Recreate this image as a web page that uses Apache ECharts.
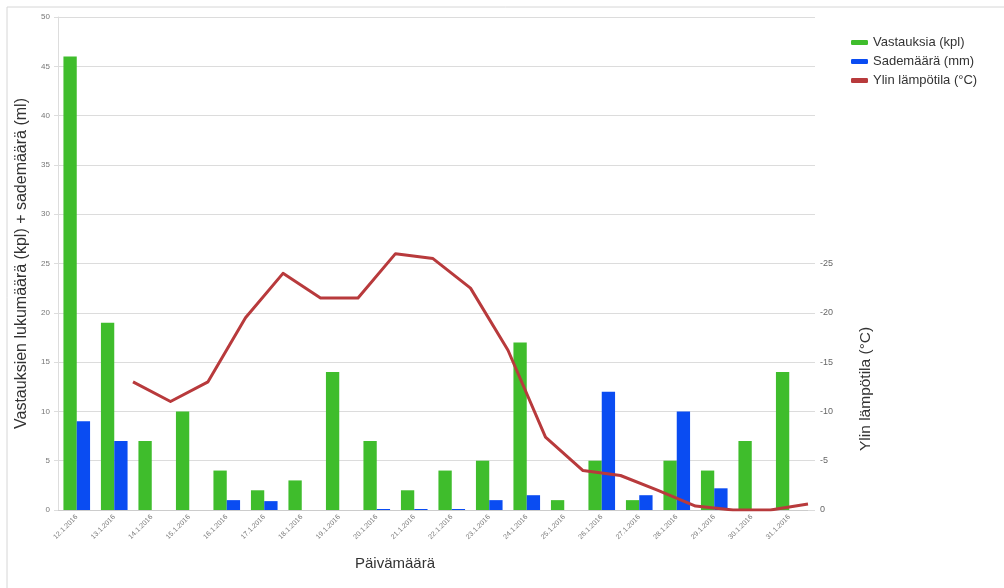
<!DOCTYPE html>
<html>
<head>
<meta charset="utf-8">
<script src="https://cdn.jsdelivr.net/npm/echarts@6/dist/echarts.min.js"></script>
<style>html,body{margin:0;padding:0;background:#fff}#c{width:1004px;height:588px}</style>
</head>
<body>
<div id="c"></div>
<script>
const dates = ['12.1.2016','13.1.2016','14.1.2016','15.1.2016','16.1.2016','17.1.2016','18.1.2016','19.1.2016','20.1.2016','21.1.2016','22.1.2016','23.1.2016','24.1.2016','25.1.2016','26.1.2016','27.1.2016','28.1.2016','29.1.2016','30.1.2016','31.1.2016'];
const vastauksia = [46, 19, 7, 10, 4, 2, 3, 14, 7, 2, 4, 5, 17, 1, 5, 1, 5, 4, 7, 14];
const sademaara = [9, 7, 0, 0, 1, 0.9, 0, 0, 0.1, 0.1, 0.1, 1, 1.5, 0, 12, 1.5, 10, 2.2, 0, 0];
// temperature points sit on the category boundaries (21 positions)
const tempPositions = ['p0','p1','p2','p3','p4','p5','p6','p7','p8','p9','p10','p11','p12','p13','p14','p15','p16','p17','p18','p19','p20'];
const ylinLampotila = [null, null, -13, -11, -13, -19.5, -24, -21.5, -21.5, -26, -25.5, -22.5, -16.2, -7.4, -4, -3.5, -2, -0.4, 0, 0, -0.6];
const leftTicks = {min: 0, max: 50, interval: 5};
const rightTicks = {min: -50, max: 0, interval: 5, shownFrom: -25};

const chart = echarts.init(document.getElementById('c'));
chart.setOption({
  animation: false,
  backgroundColor: '#fff',
  textStyle: {fontFamily: 'Liberation Sans, Arial, sans-serif'},
  grid: {left: 58, right: 196, top: 17, bottom: 78, containLabel: false},
  legend: {
    orient: 'vertical', left: 846, top: 31, itemGap: 6,
    itemWidth: 17, itemHeight: 5,
    textStyle: {fontSize: 13, color: '#333'},
    data: [
      {name: 'Vastauksia (kpl)', icon: 'roundRect'},
      {name: 'Sademäärä (mm)', icon: 'roundRect'},
      {name: 'Ylin lämpötila (°C)', icon: 'roundRect'}
    ]
  },
  xAxis: [{
    type: 'category', data: dates, boundaryGap: true,
    axisLine: {lineStyle: {color: '#ccc'}},
    axisTick: {show: false},
    axisLabel: {rotate: 45, interval: 0, fontSize: 7, color: '#777', margin: 6}
  }, {
    type: 'category', data: tempPositions, boundaryGap: false, show: false
  }],
  yAxis: [{
    type: 'value', min: leftTicks.min, max: leftTicks.max, interval: leftTicks.interval,
    name: 'Vastauksien lukumäärä (kpl) + sademäärä (ml)', nameLocation: 'middle', nameGap: 28,
    nameTextStyle: {fontSize: 16, color: '#333'},
    axisLine: {show: true, lineStyle: {color: '#ddd'}},
    axisTick: {show: true, length: 4, lineStyle: {color: '#ddd'}},
    axisLabel: {fontSize: 8, color: '#777', margin: 8},
    splitLine: {lineStyle: {color: '#dcdcdc'}}
  }, {
    type: 'value', position: 'right', inverse: true,
    min: rightTicks.min, max: rightTicks.max, interval: rightTicks.interval,
    axisLine: {show: false},
    axisTick: {show: true, length: 7, lineStyle: {color: '#dcdcdc'}},
    axisLabel: {fontSize: 9, color: '#666', margin: 12,
      formatter: v => v >= rightTicks.shownFrom ? String(v) : ''},
    splitLine: {show: false}
  }],
  graphic: [
    {type: 'line', shape: {x1: 7, y1: 7, x2: 1004, y2: 7}, style: {stroke: '#d6d6d6', lineWidth: 1}},
    {type: 'line', shape: {x1: 7, y1: 7, x2: 7, y2: 588}, style: {stroke: '#d6d6d6', lineWidth: 1}},
    {type: 'text', left: 355, top: 556, style: {text: 'Päivämäärä', fontSize: 15, fill: '#333', fontFamily: 'Liberation Sans, Arial, sans-serif'}},
    {type: 'text', x: 858, y: 451, rotation: Math.PI / 2,
      style: {text: 'Ylin lämpötila (°C)', fontSize: 15.5, fill: '#333', fontFamily: 'Liberation Sans, Arial, sans-serif'}}
  ],
  series: [{
    name: 'Vastauksia (kpl)', type: 'bar', data: vastauksia,
    itemStyle: {color: '#3fbd2c'}, barGap: '0%', barCategoryGap: '29%'
  }, {
    name: 'Sademäärä (mm)', type: 'bar', data: sademaara,
    itemStyle: {color: '#0a4cf2'}
  }, {
    name: 'Ylin lämpötila (°C)', type: 'line', data: ylinLampotila,
    xAxisIndex: 1, yAxisIndex: 1, symbol: 'none', connectNulls: false,
    lineStyle: {color: '#b83a3c', width: 3, join: 'round'},
    itemStyle: {color: '#b83a3c'}
  }]
});
</script>
</body>
</html>
